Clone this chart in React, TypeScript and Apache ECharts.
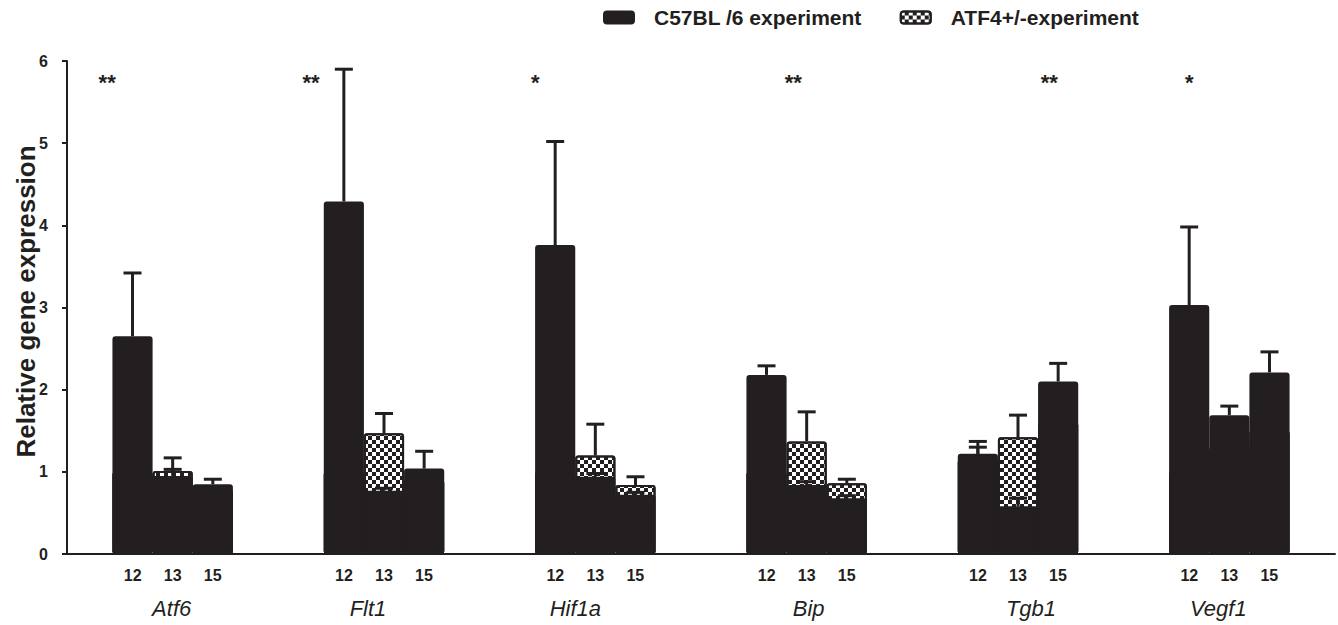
import React, { useEffect, useRef } from 'react';
import * as echarts from 'echarts';

// ---------------- data ----------------
const genes = ['Atf6', 'Flt1', 'Hif1a', 'Bip', 'Tgb1', 'Vegf1'];
const timePoints = ['12', '13', '15'];

const c57Day12 = [2.65, 4.29, 3.76, 2.18, 1.22, 3.03];
const c57Day13 = [0.95, 0.77, 0.94, 0.84, 0.58, 1.69];
const c57Day15 = [0.85, 1.04, 0.72, 0.68, 2.1, 2.21];
const c57Sem12 = [0.77, 1.61, 1.26, 0.11, 0.08, 0.95];
const c57Sem13 = [0.08, 0.03, 0.04, 0.04, 0.1, 0.11];
const c57Sem15 = [0.06, 0.21, 0.03, 0.03, 0.22, 0.25];

const atfDay12 = [1.0, 1.0, 1.0, 1.0, 1.15, 1.0];
const atfDay13 = [1.01, 1.47, 1.2, 1.37, 1.42, 1.3];
const atfDay15 = [0.78, 0.9, 0.84, 0.86, 1.6, 1.5];
const atfSem12 = [0.1, 0.12, 0.1, 0.08, 0.22, 0.15];
const atfSem13 = [0.16, 0.24, 0.38, 0.36, 0.27, 0.1];
const atfSem15 = [0.04, 0.05, 0.1, 0.05, 0.2, 0.2];

const significance = ['**', '**', '*', '**', '**', '*'];

const LEG_C57 = 'C57BL /6 experiment';
const LEG_ATF = 'ATF4+/-experiment';
const Y_NAME = 'Relative gene expression';

// ---------------- layout / style ----------------
const INK = '#231f20';
const FONT = '"Liberation Sans", Arial, Helvetica, sans-serif';
const BAR_FRAC = 0.19;
const CAP_W = 18;
const STAR_Y = 5.74;
const starOffsets = [-0.31, -0.345, -0.284, -0.063, 0.148, -0.19];
const geneLabelShift = [-1, -16, -20, 2, 13, -11];

const checker = {
  symbol: 'rect',
  symbolSize: 1,
  dashArrayX: [[4, 4], [0, 4, 4, 0]],
  dashArrayY: [4, 0],
  color: INK,
  rotation: 0,
};

function errRows(means: number[][], sems: number[][]) {
  const rows: number[][] = [];
  means.forEach((arr, k) => arr.forEach((m, i) => rows.push([i, k, m, sems[k][i]])));
  return rows;
}

function renderErr(params: any, api: any) {
  const cat = api.value(0);
  const k = api.value(1);
  const m = api.value(2);
  const e = api.value(3);
  const band = api.size([1, 0])[0];
  const b = api.coord([cat, m]);
  const t = api.coord([cat, m + e]);
  const x = b[0] + (k - 1) * band * BAR_FRAC;
  return {
    type: 'group',
    children: [
      { type: 'line', shape: { x1: x, y1: b[1], x2: x, y2: t[1] }, style: { stroke: INK, lineWidth: 3 } },
      { type: 'line', shape: { x1: x - CAP_W / 2, y1: t[1], x2: x + CAP_W / 2, y2: t[1] }, style: { stroke: INK, lineWidth: 3 } },
    ],
  };
}

function renderStar(params: any, api: any) {
  const i = params.dataIndex;
  const cat = api.value(0);
  const p = api.coord([cat, api.value(1)]);
  const band = api.size([1, 0])[0];
  return {
    type: 'text',
    style: {
      x: p[0] + starOffsets[i] * band,
      y: p[1],
      text: significance[i],
      fill: INK,
      font: `bold 22px ${FONT}`,
      align: 'center',
      verticalAlign: 'middle',
    },
  };
}

export default function App() {
  const ref = useRef<HTMLDivElement>(null);
  useEffect(() => {
    if (!ref.current) return;
    const chart = echarts.init(ref.current, null, { renderer: 'svg' });

    const rich: any = {
      n: { width: 40, align: 'center', fontSize: 16, fontWeight: 'bold', fontFamily: FONT, color: INK, lineHeight: 18 },
    };
    geneLabelShift.forEach((s, i) => {
      rich['g' + i] = {
        width: 120,
        align: 'center',
        fontSize: 22,
        fontStyle: 'italic',
        fontFamily: FONT,
        color: INK,
        lineHeight: 48,
        padding: [0, 30 - s, 0, 30 + s],
      };
    });

    const c57Means = [c57Day12, c57Day13, c57Day15];
    const c57Sems = [c57Sem12, c57Sem13, c57Sem15];
    const atfMeans = [atfDay12, atfDay13, atfDay15];
    const atfSems = [atfSem12, atfSem13, atfSem15];

    const atfBars = atfMeans.map((d, k) => ({
      type: 'bar',
      name: LEG_ATF,
      id: 'atf' + timePoints[k],
      xAxisIndex: 1,
      data: d,
      barWidth: BAR_FRAC * 100 + '%',
      barGap: '0%',
      z: 2,
      itemStyle: { color: '#ffffff', borderColor: INK, borderWidth: 2, borderRadius: 2, decal: checker },
      emphasis: { disabled: true },
    }));
    const c57Bars = c57Means.map((d, k) => ({
      type: 'bar',
      name: LEG_C57,
      id: 'c57' + timePoints[k],
      xAxisIndex: 0,
      data: d,
      barWidth: BAR_FRAC * 100 + '%',
      barGap: '0%',
      z: 4,
      itemStyle: { color: INK, borderColor: INK, borderWidth: 2, borderRadius: 2 },
      emphasis: { disabled: true },
    }));

    const option: any = {
      animation: false,
      backgroundColor: '#ffffff',
      grid: { left: 67, right: 3, top: 61, bottom: 71, containLabel: false, outerBoundsMode: 'none' },
      legend: {
        data: [LEG_C57, LEG_ATF],
        left: 603,
        top: 7,
        padding: 0,
        icon: 'roundRect',
        itemWidth: 30,
        itemHeight: 12,
        itemGap: 38,
        selectedMode: false,
        textStyle: { fontSize: 21, fontWeight: 'bold', fontFamily: FONT, color: INK, padding: [0, 0, 0, 15] },
      },
      xAxis: [
        {
          type: 'category',
          data: genes,
          axisLine: { show: true, lineStyle: { color: INK, width: 2 } },
          axisTick: { show: false },
          splitLine: { show: false },
          axisLabel: {
            interval: 0,
            margin: 12,
            formatter: (v: string, i: number) =>
              timePoints.map((t) => `{n|${t}}`).join('') + `\n{g${i}|${v}}`,
            rich,
          },
        },
        { type: 'category', data: genes, show: false },
      ],
      yAxis: {
        type: 'value',
        min: 0,
        max: 6,
        interval: 1,
        name: Y_NAME,
        nameLocation: 'middle',
        nameGap: 28,
        nameMoveOverlap: false,
        nameTextStyle: { fontSize: 26, fontWeight: 'bold', fontFamily: FONT, color: INK, padding: [0, 0, 0, 12] },
        axisLine: { show: true, lineStyle: { color: INK, width: 2 } },
        axisTick: { show: true, length: 5, lineStyle: { color: INK, width: 2 } },
        splitLine: { show: false },
        axisLabel: { fontSize: 16, fontWeight: 'bold', fontFamily: FONT, color: INK, margin: 19 },
      },
      series: [
        ...atfBars,
        {
          type: 'custom',
          name: 'atf-sem',
          xAxisIndex: 1,
          z: 3,
          renderItem: renderErr,
          encode: { x: 0, y: 2 },
          data: errRows(atfMeans, atfSems),
          silent: true,
        },
        ...c57Bars,
        {
          type: 'custom',
          name: 'c57-sem',
          xAxisIndex: 0,
          z: 5,
          renderItem: renderErr,
          encode: { x: 0, y: 2 },
          data: errRows(c57Means, c57Sems),
          silent: true,
        },
        {
          type: 'custom',
          name: 'significance',
          xAxisIndex: 0,
          z: 6,
          renderItem: renderStar,
          encode: { x: 0, y: 1 },
          data: genes.map((g, i) => [i, STAR_Y]),
          silent: true,
        },
      ],
    };
    chart.setOption(option);
    return () => chart.dispose();
  }, []);
  return <div ref={ref} style={{ position: 'absolute', left: 0, top: 0, width: 1338, height: 625 }} />;
}
